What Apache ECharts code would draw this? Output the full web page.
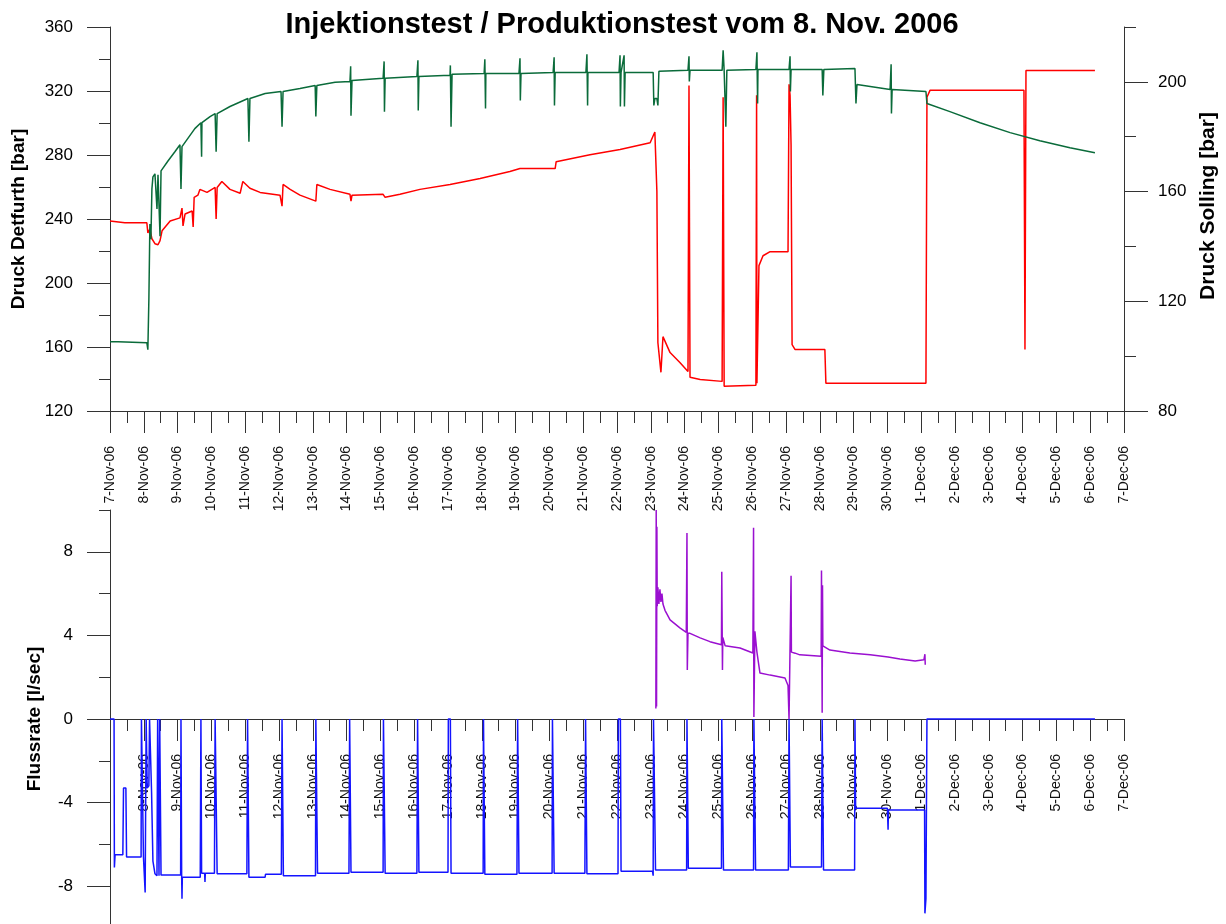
<!DOCTYPE html>
<html>
<head>
<meta charset="utf-8">
<script src="https://cdn.jsdelivr.net/npm/echarts@6/dist/echarts.min.js"></script>
<style>
  html, body { margin: 0; padding: 0; background: #fff; }
  #chart { width: 1226px; height: 924px; }
</style>
</head>
<body>
<div id="chart"></div>
<script>
// x values are days since 7-Nov-06 00:00
const dayLabels = ['7-Nov-06','8-Nov-06','9-Nov-06','10-Nov-06','11-Nov-06','12-Nov-06','13-Nov-06',
  '14-Nov-06','15-Nov-06','16-Nov-06','17-Nov-06','18-Nov-06','19-Nov-06','20-Nov-06','21-Nov-06',
  '22-Nov-06','23-Nov-06','24-Nov-06','25-Nov-06','26-Nov-06','27-Nov-06','28-Nov-06','29-Nov-06',
  '30-Nov-06','1-Dec-06','2-Dec-06','3-Dec-06','4-Dec-06','5-Dec-06','6-Dec-06','7-Dec-06'];

// Druck Detfurth [bar] (green, left axis)
const detfurthDays = [0,0.24,0.27,1.09,1.12,1.15,1.18,1.21,1.24,1.27,1.33,1.39,1.42,1.48,1.51,1.72,1.92,2.07,2.1,2.13,
  2.51,2.69,2.71,2.72,2.96,3.11,3.14,3.17,3.55,4.08,4.11,4.14,4.59,5.06,5.09,5.12,5.62,6.07,6.09,6.12,
  6.66,7.1,7.12,7.13,7.16,8.08,8.11,8.12,8.14,9.08,9.11,9.12,9.14,10.06,10.07,10.09,10.12,11.07,11.09,11.11,11.12,
  12.1,12.13,12.14,12.16,13.11,13.14,13.15,13.17,14.08,14.11,14.13,14.14,15.06,15.09,15.1,15.12,15.21,15.22,15.24,
  16.07,16.09,16.12,16.18,16.21,16.24,17.1,17.13,17.14,17.16,18.11,18.14,18.17,18.22,18.25,19.11,19.14,19.16,19.17,
  20.09,20.12,20.13,20.15,21.07,21.09,21.12,22.04,22.07,22.1,23.08,23.11,23.12,23.14,24.14,24.17,24.85,25.74,26.63,
  27.51,28.4,29.14];
const detfurthBar = [163.3,163.3,162.7,162.7,158.3,189.7,236.8,227.4,258.8,266.3,268.2,246.2,267.6,229.3,270.1,276.4,282,286.4,258.8,285.2,
  296.5,300.2,278.9,300.2,304,305.9,282,305.9,310.3,315.3,288.3,315.3,318.4,319.7,297.7,319.7,321.6,323.5,304,323.5,
  325.4,326,335.4,304.6,326.6,327.9,338.5,307.1,327.9,329.1,339.2,307.8,329.1,329.8,336,297.7,330.4,331,339.8,309,331,
  331,340.4,314,331,331.6,341.1,311,331.6,331.6,342.9,311,331.6,331.6,342.3,310.3,331.6,342.3,310.3,331.6,
  331.6,311,315.3,315.3,311,332.3,332.9,341.7,326,332.9,332.9,345.5,332.9,297.7,332.9,333.5,344.2,312.2,333.5,
  333.5,341.7,319.7,333.5,333.5,317.2,333.5,334.1,312.2,324.1,321,336.7,305.9,321,319.7,312.2,307.1,300.2,294,
  288.9,284.5,281.4];

// Druck Solling [bar] (red, right axis)
const sollingDays = [0,0.44,1.09,1.12,1.18,1.24,1.33,1.42,1.48,1.54,1.78,2.07,2.13,2.16,2.22,2.43,2.46,2.49,2.6,2.66,
  2.87,3.11,3.14,3.17,3.31,3.55,3.85,3.93,4.14,4.44,5.03,5.09,5.12,5.33,5.62,6.09,6.12,6.51,7.1,7.13,7.16,
  8.08,8.14,8.58,9.17,10.06,10.95,11.83,12.13,13.17,13.2,14.2,15.09,15.98,16.12,16.18,16.21,16.3,16.36,16.57,
  16.86,17.1,17.13,17.16,17.46,18.11,18.14,18.17,19.11,19.13,19.14,19.2,19.32,19.53,20.06,20.09,20.12,20.15,
  20.18,20.27,21.15,21.18,24.14,24.17,24.26,27.04,27.07,27.1,29.14];
const sollingBar = [149.3,148.6,148.6,144.9,146.4,142.8,141,140.6,142.1,145.7,149.3,150.4,154,147.5,151.8,152.9,147.1,157.9,158.7,160.8,
  159.7,161.5,150,161.5,163.7,160.8,159.4,163.7,161.2,159.7,158.7,154.7,162.6,160.8,158.7,156.5,162.6,160.8,159,156.5,158.7,
  159,157.9,159,160.8,162.6,164.8,167.3,168.4,168.4,170.9,173.4,175.3,177.8,181.7,160.1,104.9,94.1,107.1,101.3,
  97.7,94.4,198.7,92.3,91.5,90.8,194.4,89,89.4,195.1,90.1,133,136.6,138.1,138.1,199.1,195.1,177.1,
  104.2,102.4,102.4,90.1,90.1,194.4,196.9,196.9,102.4,204.1,204.1];

// Flussrate [l/sec], injection (blue, negative)
const injDays = [0,0.12,0.13,0.15,0.38,0.4,0.47,0.49,0.92,0.93,0.98,0.99,1.04,1.07,1.09,1.1,1.15,1.17,1.21,1.23,1.27,1.33,1.39,
  1.41,1.44,1.45,1.47,1.5,1.51,2.09,2.1,2.12,2.13,2.14,2.67,2.69,2.71,2.8,2.81,2.82,3.09,3.11,3.15,3.17,
  4.05,4.07,4.1,4.11,4.59,4.6,5.07,5.09,5.12,5.13,6.08,6.09,6.12,6.14,7.07,7.09,7.11,7.13,8.08,8.09,8.12,8.14,
  9.08,9.1,9.12,9.14,10,10.01,10.07,10.09,11.04,11.05,11.08,11.09,12.04,12.06,12.09,12.1,13.08,13.09,13.12,13.14,
  14.05,14.07,14.1,14.11,15.03,15.04,15.1,15.12,16.05,16.07,16.08,16.12,16.14,17.06,17.07,17.1,17.11,
  18.09,18.1,18.13,18.15,19.04,19.05,19.08,19.1,20.07,20.09,20.12,20.13,21.05,21.07,21.09,21.11,
  22.03,22.04,22.06,23.0,23.02,23.03,24.1,24.11,24.14,24.17,29.14];
const injRate = [0,0,-7.1,-6.5,-6.5,-3.3,-3.3,-6.6,-6.6,0,0,-6.6,-8.3,0,0,-3.3,-3.2,0,0,-3.5,-6.8,-7.4,-7.5,
  0,0,-7.5,0,0,-7.47,-7.47,0,-7.5,-8.6,-7.57,-7.57,0,-7.38,-7.38,-7.8,-7.38,-7.38,0,0,-7.4,
  -7.4,0,0,-7.57,-7.57,-7.43,-7.43,0,0,-7.5,-7.5,0,0,-7.38,-7.38,0,0,-7.33,-7.33,0,0,-7.38,
  -7.38,0,0,-7.33,-7.33,0,0,-7.38,-7.38,0,0,-7.43,-7.43,0,0,-7.38,-7.38,0,0,-7.38,
  -7.38,0,0,-7.4,-7.4,0,0,-7.28,-7.28,-7.5,0,0,-7.23,-7.23,0,0,-7.14,
  -7.14,0,0,-7.23,-7.23,0,0,-7.23,-7.23,0,0,-7.08,-7.08,0,0,-7.23,
  -7.23,0,-4.27,-4.27,-5.3,-4.36,-4.36,-9.3,-8.6,0,0];

// Flussrate [l/sec], production (purple, positive)
const prodDays = [16.15,16.16,16.17,16.18,16.19,16.21,16.24,16.27,16.3,16.33,16.36,16.42,16.57,16.86,17.05,17.07,17.08,17.1,
  17.16,17.46,17.75,18.09,18.1,18.12,18.13,18.2,18.64,19.02,19.04,19.05,19.08,19.14,19.23,19.53,19.97,20.06,20.09,
  20.13,20.15,20.16,20.27,20.41,21.04,21.05,21.07,21.08,21.09,21.3,21.89,22.49,23.02,23.37,23.82,24.08,24.11,24.12];
const prodRate = [0.5,10,0.6,9.2,5.4,6.3,5.5,6.2,5.6,6.0,5.5,5.2,4.74,4.36,4.15,8.9,2.35,4.1,
  4.1,3.88,3.7,3.55,7.05,2.35,3.9,3.5,3.4,3.16,9.15,0.1,4.2,3.2,2.2,2.1,1.96,1.6,0,
  0,6.85,3.2,3.15,3.07,3.0,7.1,0.3,6.4,3.5,3.3,3.16,3.07,2.97,2.87,2.78,2.83,3.1,2.6];

const zip = (xs, ys) => xs.map((x, i) => [x, ys[i]]);

const chart = echarts.init(document.getElementById('chart'));
const font = 'Liberation Sans, Arial, sans-serif';
const axisColor = '#333';

function dayAxis(gridIndex, offset, showMin) {
  return {
    type: 'value',
    gridIndex: gridIndex,
    position: 'bottom',
    offset: offset,
    min: 0,
    max: 30,
    interval: 1,
    splitLine: { show: false },
    axisLine: { onZero: false, lineStyle: { color: axisColor } },
    axisTick: { length: 22, lineStyle: { color: axisColor } },
    minorTick: { show: true, splitNumber: 2, length: 12, lineStyle: { color: axisColor } },
    axisLabel: {
      rotate: 90,
      margin: 35,
      fontSize: 14,
      fontFamily: font,
      color: '#111',
      showMinLabel: showMin,
      formatter: v => dayLabels[Math.round(v)]
    }
  };
}

const nameStyle = { fontSize: 19, fontWeight: 'bold', fontFamily: font, color: '#000' };
const labelStyle = { fontSize: 17, fontFamily: font, color: '#000' };

const option = {
  animation: false,
  backgroundColor: '#fff',
  title: {
    text: 'Injektionstest / Produktionstest vom 8. Nov. 2006',
    left: 617,
    textAlign: 'center',
    top: 5,
    textStyle: { fontSize: 29, fontWeight: 'bold', fontFamily: font, color: '#000' }
  },
  grid: [
    { left: 110, right: 102, top: 27, height: 384, containLabel: false, outerBoundsMode: 'none' },
    { left: 110, right: 102, top: 510, height: 418, containLabel: false, outerBoundsMode: 'none' }
  ],
  // bottom day axis is lifted from the grid bottom (-10) up to the zero line
  xAxis: [dayAxis(0, 0, true), dayAxis(1, -209, false)],
  yAxis: [
    {
      type: 'value', gridIndex: 0, position: 'left',
      min: 120, max: 360, interval: 40,
      name: 'Druck Detfurth [bar]', nameLocation: 'middle', nameGap: 82, nameRotate: 90,
      nameTextStyle: nameStyle,
      splitLine: { show: false },
      axisLine: { show: true, lineStyle: { color: axisColor } },
      axisTick: { show: true, length: 23, lineStyle: { color: axisColor } },
      minorTick: { show: true, splitNumber: 2, length: 11, lineStyle: { color: axisColor } },
      axisLabel: Object.assign({ margin: 37 }, labelStyle)
    },
    {
      type: 'value', gridIndex: 0, position: 'right',
      min: 80, max: 220,
      name: 'Druck Solling [bar]', nameLocation: 'middle', nameGap: 74, nameRotate: 90,
      nameTextStyle: Object.assign({}, nameStyle, { fontSize: 21, padding: [0, 0, 0, 26] }),
      splitLine: { show: false },
      axisLine: { show: true, lineStyle: { color: axisColor } },
      axisTick: { show: true, length: 24, customValues: [80, 120, 160, 200], lineStyle: { color: axisColor } },
      axisLabel: Object.assign({ margin: 34, customValues: [80, 120, 160, 200] }, labelStyle)
    },
    {
      // minor ticks for the right axis
      type: 'value', gridIndex: 0, position: 'right',
      min: 80, max: 220, interval: 20,
      splitLine: { show: false },
      axisLine: { show: false },
      axisTick: { show: true, length: 12, lineStyle: { color: axisColor } },
      axisLabel: { show: false }
    },
    {
      type: 'value', gridIndex: 1, position: 'left',
      min: -10, max: 10,
      name: 'Flussrate [l/sec]', nameLocation: 'middle', nameGap: 66, nameRotate: 90,
      nameTextStyle: nameStyle,
      splitLine: { show: false },
      axisLine: { show: true, lineStyle: { color: axisColor } },
      axisTick: { show: true, length: 23, customValues: [-8, -4, 0, 4, 8], lineStyle: { color: axisColor } },
      axisLabel: Object.assign({ margin: 37, customValues: [-8, -4, 0, 4, 8] }, labelStyle)
    },
    {
      // minor ticks for the flow axis
      type: 'value', gridIndex: 1, position: 'left',
      min: -10, max: 10, interval: 2,
      splitLine: { show: false },
      axisLine: { show: false },
      axisTick: { show: true, length: 11, lineStyle: { color: axisColor } },
      axisLabel: { show: false }
    }
  ],
  series: [
    {
      name: 'Druck Detfurth', type: 'line', xAxisIndex: 0, yAxisIndex: 0,
      showSymbol: false, sampling: 'none', z: 3,
      lineStyle: { color: '#0a6b3a', width: 1.5 },
      data: zip(detfurthDays, detfurthBar)
    },
    {
      name: 'Druck Solling', type: 'line', xAxisIndex: 0, yAxisIndex: 1,
      showSymbol: false, sampling: 'none', z: 2,
      lineStyle: { color: '#ff0000', width: 1.5 },
      data: zip(sollingDays, sollingBar)
    },
    {
      name: 'Injektion', type: 'line', xAxisIndex: 1, yAxisIndex: 3,
      showSymbol: false, sampling: 'none', z: 3,
      lineStyle: { color: '#1414ff', width: 1.5 },
      data: zip(injDays, injRate)
    },
    {
      name: 'Produktion', type: 'line', xAxisIndex: 1, yAxisIndex: 3,
      showSymbol: false, sampling: 'none', z: 2,
      lineStyle: { color: '#9a10d0', width: 1.5 },
      data: zip(prodDays, prodRate)
    }
  ]
};

chart.setOption(option);
</script>
</body>
</html>
